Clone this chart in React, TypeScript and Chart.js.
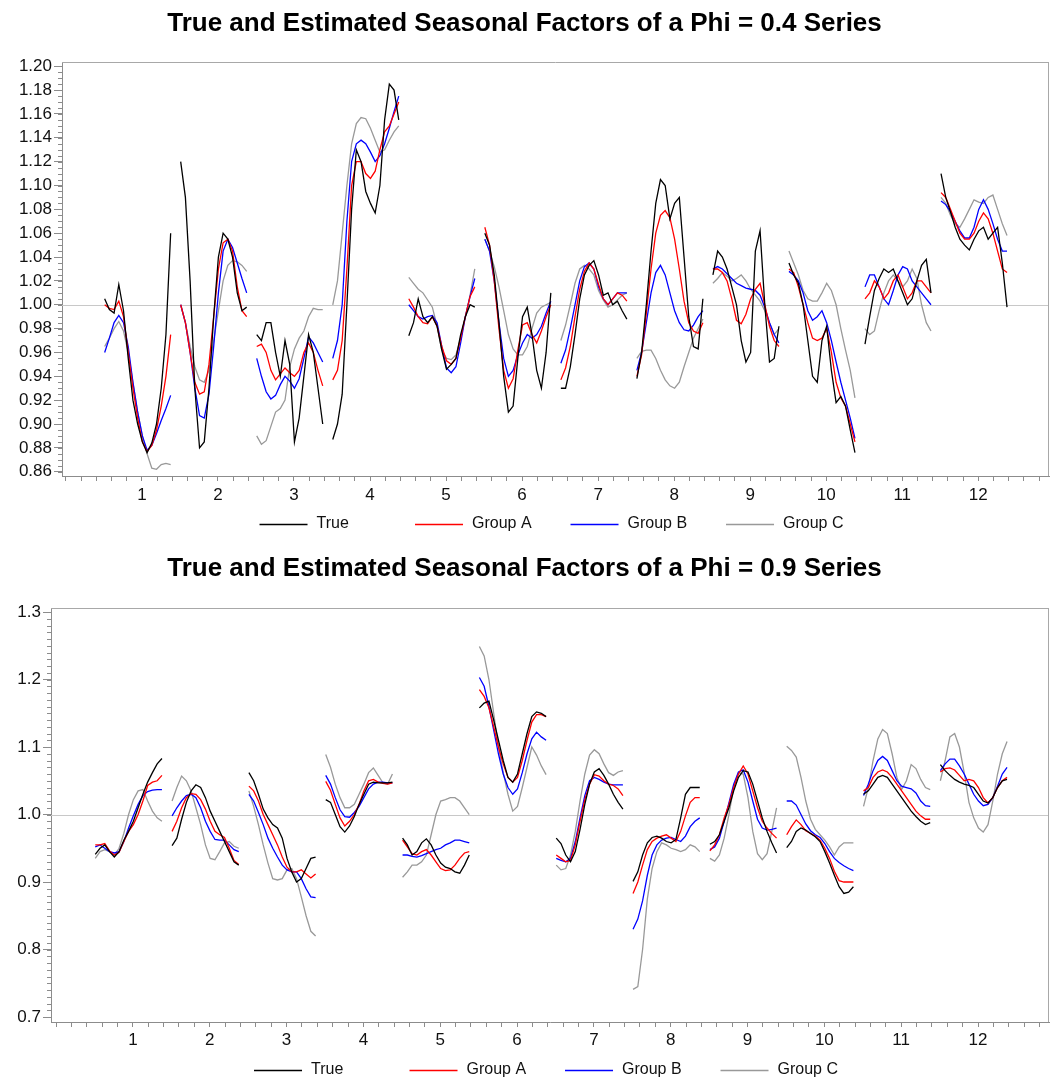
import React, { useEffect, useRef } from 'react';
import { Chart, registerables } from 'chart.js';

Chart.register(...registerables);

const FONT = "'Liberation Sans', Arial, Helvetica, sans-serif";

// ---- categories ----
const MONTHS = [1, 2, 3, 4, 5, 6, 7, 8, 9, 10, 11, 12];
const X_TICK_LABELS = ['1', '2', '3', '4', '5', '6', '7', '8', '9', '10', '11', '12'];
// position of each year inside a month's sub-series
const SUBSERIES_OFFSETS = [-0.49, -0.428, -0.366, -0.304, -0.242, -0.18, -0.118, -0.056, 0.006, 0.068, 0.13, 0.192, 0.254, 0.316, 0.378];

const SERIES_NAMES = ['True', 'Group A', 'Group B', 'Group C'];
const SERIES_COLORS = ['#000000', '#ff0000', '#0000ff', '#999999'];

const PHI4_Y_TICKS = [0.86, 0.88, 0.9, 0.92, 0.94, 0.96, 0.98, 1.0, 1.02, 1.04, 1.06, 1.08, 1.1, 1.12, 1.14, 1.16, 1.18, 1.2];
const PHI9_Y_TICKS = [0.7, 0.8, 0.9, 1.0, 1.1, 1.2, 1.3];

// ---- Phi = 0.4 series (one row per month) ----
const phi4True = [
  [1.005, 0.996, 0.993, 1.017, 0.995, 0.955, 0.92, 0.9, 0.885, 0.876, 0.884, 0.9, 0.93, 0.975, 1.06],
  [1.12, 1.09, 1.02, 0.93, 0.88, 0.885, 0.93, 0.99, 1.04, 1.06, 1.055, 1.04, 1.01, 0.995, 0.998],
  [0.975, 0.97, 0.985, 0.985, 0.96, 0.94, 0.97, 0.95, 0.885, 0.905, 0.94, 0.975, 0.96, 0.93, 0.9],
  [0.887, 0.9, 0.925, 1.0, 1.08, 1.13, 1.12, 1.095, 1.085, 1.077, 1.1, 1.155, 1.185, 1.18, 1.155],
  [0.974, 0.985, 1.005, 0.99, 0.985, 0.99, 0.982, 0.962, 0.946, 0.95, 0.955, 0.975, 0.99, 1.0, 0.998],
  [1.06, 1.05, 1.025, 0.985, 0.94, 0.91, 0.915, 0.955, 0.99, 0.998, 0.975, 0.945, 0.93, 0.96, 1.01],
  [0.93, 0.93, 0.948, 0.975, 1.005, 1.025, 1.033, 1.037, 1.025, 1.008, 1.01, 1.0, 1.003, 0.995, 0.988],
  [0.938, 0.96, 1.0, 1.045, 1.085, 1.105, 1.1, 1.072, 1.085, 1.09, 1.04, 0.99, 0.965, 0.963, 1.005],
  [1.025, 1.045, 1.04, 1.03, 1.015, 1.0, 0.97, 0.952, 0.96, 1.045, 1.062, 1.0, 0.952, 0.955, 0.982],
  [1.035, 1.025, 1.018, 1.0, 0.97, 0.94, 0.935, 0.97, 0.982, 0.945, 0.918, 0.923, 0.915, 0.895, 0.876],
  [0.967, 0.99, 1.012, 1.022, 1.03, 1.027, 1.03, 1.02, 1.01, 1.0, 1.005, 1.02, 1.033, 1.038, 1.01],
  [1.11, 1.09, 1.078, 1.065, 1.055, 1.05, 1.046, 1.055, 1.062, 1.065, 1.055, 1.06, 1.065, 1.035, 0.998],
];
const phi4GroupA = [
  [1.0, 0.997, 0.996, 1.003, 0.99, 0.96, 0.93, 0.905, 0.885, 0.877, 0.882, 0.895, 0.915, 0.94, 0.975],
  [1.0, 0.985, 0.96, 0.935, 0.925, 0.927, 0.95, 0.99, 1.03, 1.052, 1.055, 1.045, 1.015, 0.995, 0.99],
  [0.965, 0.967, 0.96, 0.945, 0.937, 0.942, 0.947, 0.943, 0.94, 0.945, 0.96, 0.968, 0.96, 0.945, 0.932],
  [0.937, 0.945, 0.97, 1.03, 1.1, 1.12, 1.12, 1.11, 1.106, 1.112, 1.13, 1.145, 1.15, 1.16, 1.17],
  [1.005, 0.998, 0.99, 0.985, 0.984, 0.99, 0.982, 0.965, 0.953, 0.95, 0.955, 0.972, 0.99, 1.007, 1.015],
  [1.065, 1.05, 1.02, 0.98, 0.945, 0.93, 0.938, 0.962, 0.983, 0.985, 0.975, 0.968, 0.978, 0.99, 1.0],
  [0.937, 0.947, 0.965, 0.99, 1.013, 1.028, 1.035, 1.03, 1.017, 1.005, 1.0, 1.005, 1.01, 1.008, 1.003],
  [0.94, 0.958, 0.993, 1.03, 1.06, 1.075, 1.079, 1.073, 1.055, 1.03, 1.003, 0.985, 0.978, 0.976, 0.985],
  [1.03, 1.03, 1.027, 1.02, 1.005, 0.987, 0.984, 0.992, 1.005, 1.013, 1.018, 1.0, 0.982, 0.97, 0.965],
  [1.03, 1.027, 1.015, 1.0, 0.985, 0.972, 0.97, 0.972, 0.98, 0.96, 0.935, 0.922, 0.915, 0.9, 0.885],
  [1.005, 1.01, 1.02, 1.015, 1.005, 1.01, 1.02, 1.025, 1.015, 1.005, 1.01, 1.02, 1.02, 1.015, 1.01],
  [1.094, 1.09, 1.08, 1.07, 1.06, 1.055, 1.055, 1.06, 1.07, 1.077, 1.072, 1.06, 1.045, 1.03, 1.027],
];
const phi4GroupB = [
  [0.96, 0.972, 0.985, 0.991, 0.985, 0.965, 0.935, 0.91, 0.89, 0.878, 0.882, 0.892, 0.903, 0.913, 0.924],
  [1.0, 0.985, 0.96, 0.93, 0.907, 0.905, 0.925, 0.965, 1.01, 1.045, 1.055, 1.048, 1.035, 1.022, 1.01],
  [0.955, 0.94, 0.927, 0.921, 0.924, 0.933, 0.94, 0.936, 0.93, 0.938, 0.955, 0.973, 0.968, 0.96, 0.952],
  [0.955, 0.97, 1.0, 1.07, 1.12, 1.135, 1.138, 1.135, 1.128, 1.12, 1.125, 1.135, 1.148, 1.162, 1.175],
  [1.0, 0.995, 0.99, 0.988, 0.99, 0.991, 0.985, 0.965, 0.947, 0.943, 0.948, 0.968, 0.99, 1.007, 1.022],
  [1.055, 1.045, 1.02, 0.985, 0.955, 0.94, 0.945, 0.958, 0.968, 0.975, 0.972, 0.975, 0.982, 0.993, 1.003],
  [0.951, 0.962, 0.98, 1.0, 1.02, 1.032, 1.035, 1.03, 1.015, 1.005, 1.0, 1.005, 1.01, 1.01, 1.01],
  [0.945, 0.96, 0.985, 1.01, 1.027, 1.033, 1.025, 1.01, 0.995, 0.985, 0.979, 0.978, 0.983, 0.99, 0.995],
  [1.03, 1.032, 1.03, 1.026, 1.022, 1.018, 1.016, 1.014, 1.013, 1.012, 1.008, 0.998, 0.985, 0.975, 0.968],
  [1.028, 1.025, 1.02, 1.01, 0.995, 0.987, 0.99, 0.995, 0.985, 0.97, 0.952, 0.935, 0.92, 0.905, 0.888],
  [1.015, 1.025, 1.025, 1.015, 1.005, 1.0, 1.012, 1.025, 1.032, 1.03, 1.02, 1.015, 1.01, 1.005, 1.0],
  [1.087, 1.084, 1.078, 1.07, 1.062, 1.056, 1.056, 1.065, 1.08, 1.088, 1.08, 1.068, 1.055, 1.045, 1.045],
];
const phi4GroupC = [
  [0.965, 0.972, 0.98, 0.986, 0.978, 0.96, 0.935, 0.91, 0.89, 0.875, 0.863, 0.862, 0.866, 0.867, 0.866],
  [1.0, 0.985, 0.965, 0.948, 0.937, 0.935, 0.945, 0.97, 0.995, 1.02, 1.033, 1.037, 1.036, 1.033, 1.028],
  [0.89, 0.883, 0.886, 0.898, 0.91, 0.913, 0.92, 0.948, 0.963, 0.972, 0.978, 0.99, 0.997, 0.996, 0.996],
  [1.0, 1.02, 1.06, 1.1, 1.135, 1.152, 1.157, 1.156, 1.148, 1.138, 1.128, 1.13, 1.138, 1.145, 1.15],
  [1.023, 1.018, 1.013, 1.01, 1.004, 0.998, 0.982, 0.962, 0.955, 0.954, 0.958, 0.972, 0.99, 1.008, 1.03],
  [1.055, 1.045, 1.032, 1.015, 0.995, 0.975, 0.963, 0.958, 0.958, 0.965, 0.98, 0.993, 0.998, 1.0, 1.002],
  [0.97, 0.983, 1.0, 1.018, 1.03, 1.033, 1.03, 1.025, 1.012, 1.004, 0.998, 1.0, 1.004, 1.008, 1.01],
  [0.955, 0.961, 0.962, 0.962, 0.955, 0.945, 0.937, 0.932, 0.93, 0.935, 0.948, 0.96, 0.972, 0.98, 0.988],
  [1.018, 1.022, 1.027, 1.024, 1.02, 1.022, 1.025, 1.02, 1.013, 1.008, 1.003, 0.995, 0.985, 0.975, 0.98],
  [1.045, 1.035, 1.025, 1.012, 1.005, 1.003, 1.003, 1.01, 1.018, 1.012, 1.0, 0.98, 0.962, 0.945, 0.922],
  [0.98, 0.975, 0.978, 0.995, 1.01, 1.02, 1.025, 1.02, 1.015, 1.02, 1.03, 1.022, 1.0, 0.985, 0.978],
  [1.09, 1.085, 1.075, 1.068, 1.065, 1.072, 1.08, 1.088, 1.086, 1.085, 1.09, 1.092, 1.08, 1.068, 1.058],
];

// ---- Phi = 0.9 series (one row per month) ----
const phi9True = [
  [0.941, 0.95, 0.955, 0.945, 0.937, 0.945, 0.962, 0.975, 0.99, 1.01, 1.03, 1.048, 1.062, 1.075, 1.083],
  [0.954, 0.965, 0.993, 1.018, 1.035, 1.044, 1.04, 1.025, 1.005, 0.99, 0.975, 0.96, 0.945, 0.93, 0.925],
  [1.062, 1.05, 1.03, 1.008, 0.995, 0.985, 0.98, 0.965, 0.935, 0.915, 0.9, 0.905, 0.92, 0.935, 0.937],
  [1.022, 1.018, 1.0, 0.982, 0.974, 0.983, 0.997, 1.015, 1.03, 1.045, 1.048, 1.047, 1.047, 1.047, 1.048],
  [0.965, 0.955, 0.94, 0.945, 0.958, 0.964, 0.955, 0.94, 0.928, 0.922, 0.92, 0.915, 0.913, 0.925, 0.94],
  [1.158, 1.165, 1.168, 1.14, 1.11, 1.08, 1.055, 1.048, 1.06, 1.09, 1.12, 1.145, 1.152, 1.15, 1.145],
  [0.965, 0.957, 0.94, 0.93, 0.945, 0.978, 1.015, 1.045, 1.063, 1.068, 1.058, 1.045, 1.03, 1.018, 1.008],
  [0.901, 0.915, 0.94, 0.958, 0.966, 0.968, 0.965, 0.96, 0.958, 0.963, 0.995, 1.03, 1.04, 1.04, 1.04],
  [0.956, 0.96, 0.97, 0.99, 1.01, 1.035, 1.055, 1.065, 1.063, 1.045, 1.02, 0.995, 0.975, 0.958, 0.943],
  [0.951, 0.96, 0.975, 0.98, 0.977, 0.972, 0.967, 0.96, 0.945, 0.928, 0.91, 0.893, 0.883, 0.885, 0.893],
  [1.03, 1.035, 1.045, 1.055, 1.058, 1.055, 1.045, 1.035, 1.025, 1.015, 1.005, 0.997, 0.99, 0.985, 0.988],
  [1.074, 1.065, 1.058, 1.052, 1.048, 1.045, 1.043, 1.04, 1.03, 1.02, 1.017, 1.025, 1.04, 1.05, 1.052],
];
const phi9GroupA = [
  [0.955, 0.955, 0.957, 0.946, 0.94, 0.944, 0.96, 0.975, 0.985, 1.0, 1.02, 1.043, 1.048, 1.05, 1.058],
  [0.975, 0.99, 1.01, 1.025, 1.031, 1.03, 1.022, 1.008, 0.99, 0.975, 0.97, 0.966, 0.95, 0.932, 0.926],
  [1.042, 1.035, 1.02, 1.0, 0.985, 0.97, 0.955, 0.937, 0.922, 0.915, 0.915, 0.918, 0.912, 0.906, 0.912],
  [1.049, 1.036, 1.015, 0.995, 0.983, 0.99, 1.0, 1.015, 1.035, 1.05, 1.052, 1.048, 1.046, 1.045, 1.047],
  [0.962, 0.952, 0.942, 0.94, 0.945, 0.948, 0.94, 0.93, 0.92, 0.917, 0.918, 0.925, 0.935, 0.943, 0.945],
  [1.185, 1.175, 1.158, 1.13, 1.1, 1.075, 1.055, 1.048, 1.055, 1.08, 1.11, 1.137, 1.148, 1.148, 1.145],
  [0.94, 0.935, 0.93, 0.932, 0.955, 0.99, 1.022, 1.045, 1.059, 1.057, 1.05, 1.045, 1.043, 1.038, 1.028],
  [0.883, 0.9, 0.925, 0.948, 0.96, 0.965, 0.968, 0.97, 0.965, 0.96, 0.975, 0.998, 1.018, 1.025, 1.025],
  [0.946, 0.955, 0.97, 0.995, 1.015, 1.04, 1.06, 1.072, 1.06, 1.035, 1.01, 0.99, 0.98, 0.972, 0.965],
  [0.97, 0.982, 0.992, 0.985, 0.976, 0.972, 0.968, 0.962, 0.95, 0.935, 0.916, 0.902, 0.9, 0.9, 0.9],
  [1.035, 1.04, 1.055, 1.063, 1.066, 1.063, 1.055, 1.045, 1.035, 1.025, 1.015, 1.005, 0.998, 0.993, 0.993],
  [1.063, 1.068, 1.069, 1.066, 1.058, 1.05, 1.052, 1.05, 1.04, 1.025, 1.017, 1.025, 1.04, 1.05, 1.055],
];
const phi9GroupB = [
  [0.952, 0.955, 0.95, 0.945, 0.943, 0.945, 0.96, 0.98, 0.998, 1.015, 1.028, 1.034, 1.036, 1.037, 1.037],
  [0.998, 1.01, 1.02, 1.028, 1.03, 1.025, 1.01, 0.99, 0.975, 0.963, 0.962, 0.962, 0.955, 0.948, 0.945],
  [1.03, 1.02, 1.003, 0.985, 0.965, 0.95, 0.937, 0.925, 0.918, 0.915, 0.915, 0.905, 0.89, 0.878, 0.877],
  [1.058, 1.045, 1.025, 1.007, 0.997, 0.996, 1.003, 1.012, 1.025, 1.038, 1.045, 1.048, 1.048, 1.047, 1.047],
  [0.94, 0.94, 0.938, 0.937, 0.939, 0.942, 0.945, 0.948, 0.95, 0.955, 0.958, 0.962, 0.962, 0.96, 0.958],
  [1.203, 1.19, 1.16, 1.125, 1.09, 1.06, 1.04, 1.03, 1.038, 1.062, 1.09, 1.112, 1.122, 1.115, 1.11],
  [0.935, 0.932, 0.93, 0.935, 0.96, 0.995, 1.028, 1.05, 1.055, 1.052, 1.048, 1.045, 1.044, 1.044, 1.044],
  [0.83, 0.845, 0.872, 0.91, 0.94, 0.955, 0.962, 0.965, 0.966, 0.963, 0.96, 0.968, 0.982, 0.99, 0.995],
  [0.948, 0.952, 0.965, 0.99, 1.017, 1.045, 1.063, 1.066, 1.048, 1.02, 0.993, 0.98, 0.977, 0.978, 0.98],
  [1.02, 1.02, 1.014, 1.0, 0.986, 0.976, 0.97, 0.966, 0.957, 0.945, 0.935, 0.929, 0.924, 0.92, 0.917],
  [1.028, 1.045, 1.065, 1.08, 1.086, 1.08, 1.065, 1.05, 1.042, 1.04, 1.038, 1.032, 1.02, 1.013, 1.012],
  [1.065, 1.075, 1.082, 1.082, 1.072, 1.06, 1.045, 1.03, 1.02, 1.013, 1.015, 1.025, 1.042, 1.06, 1.07],
];
const phi9GroupC = [
  [0.935, 0.945, 0.948, 0.945, 0.94, 0.95, 0.972, 1.0, 1.022, 1.035, 1.037, 1.02, 1.005, 0.995, 0.99],
  [1.02, 1.04, 1.057, 1.05, 1.035, 1.01, 0.985, 0.955, 0.935, 0.933, 0.945, 0.958, 0.96, 0.953, 0.95],
  [1.035, 1.012, 0.985, 0.955, 0.928, 0.905, 0.903, 0.905, 0.918, 0.92, 0.905, 0.878, 0.85, 0.827, 0.82],
  [1.089, 1.07, 1.045, 1.025, 1.01, 1.01, 1.015, 1.03, 1.045, 1.062, 1.069, 1.058, 1.047, 1.045, 1.06],
  [0.907, 0.915, 0.925, 0.925, 0.93, 0.94, 0.97, 1.0, 1.02, 1.022, 1.025, 1.025, 1.02, 1.01, 1.0],
  [1.249, 1.235, 1.2, 1.15, 1.1, 1.062, 1.03, 1.005, 1.012, 1.04, 1.07, 1.1, 1.088, 1.072, 1.059],
  [0.925, 0.918, 0.92, 0.94, 0.975, 1.02, 1.06, 1.088, 1.096, 1.09, 1.075, 1.062, 1.058, 1.063, 1.065],
  [0.741, 0.745, 0.8, 0.875, 0.92, 0.945, 0.958, 0.955, 0.95, 0.948, 0.945, 0.948, 0.955, 0.952, 0.945],
  [0.935, 0.931, 0.94, 0.965, 1.0, 1.04, 1.062, 1.06, 1.025, 0.975, 0.942, 0.933, 0.942, 0.975, 1.01],
  [1.101, 1.095, 1.085, 1.055, 1.02, 0.993, 0.978, 0.97, 0.962, 0.952, 0.94, 0.952, 0.958, 0.958, 0.958],
  [1.012, 1.04, 1.08, 1.112, 1.126, 1.12, 1.09, 1.055, 1.037, 1.05, 1.074, 1.068, 1.052, 1.04, 1.037],
  [1.05, 1.08, 1.115, 1.12, 1.1, 1.062, 1.018, 0.995, 0.98, 0.974, 0.985, 1.02, 1.06, 1.09, 1.108],
];

const AXIS_COLOR = '#8c8c8c';
const FRAME_COLOR = '#a8a8a8';
const REF_COLOR = '#c8c8c8';

type Panel = {
  title: string;
  series: number[][][];
  yMin: number;
  yMax: number;
  yTicks: number[];
  yDecimals: number;
  yMinorStep: number;
  xMin: number;
  xMax: number;
  yAxisWidth: number;
  titlePadTop: number;
  titlePadBottom: number;
  xAxisHeight: number;
  xLabelPad: number;
  bottomPad: number;
  legendOffset: number;
};

const PANELS: Panel[] = [
  {
    title: 'True and Estimated Seasonal Factors of a Phi = 0.4 Series',
    series: [phi4True, phi4GroupA, phi4GroupB, phi4GroupC],
    yMin: 0.8564, yMax: 1.2034, yTicks: PHI4_Y_TICKS, yDecimals: 2, yMinorStep: 0.005,
    xMin: -0.051, xMax: 12.93, yAxisWidth: 62,
    titlePadTop: 8.4, titlePadBottom: 22.6, xAxisHeight: 30, xLabelPad: 4, bottomPad: 34, legendOffset: 48,
  },
  {
    title: 'True and Estimated Seasonal Factors of a Phi = 0.9 Series',
    series: [phi9True, phi9GroupA, phi9GroupB, phi9GroupC],
    yMin: 0.6926, yMax: 1.3055, yTicks: PHI9_Y_TICKS, yDecimals: 1, yMinorStep: 0.01,
    xMin: -0.066, xMax: 12.924, yAxisWidth: 51,
    titlePadTop: 13.4, titlePadBottom: 23.7, xAxisHeight: 30, xLabelPad: 3, bottomPad: 28, legendOffset: 48,
  },
];

function buildPoints(values: number[][]) {
  const pts: { x: number; y: number | null }[] = [];
  values.forEach((row, mi) => {
    row.forEach((v, j) => pts.push({ x: MONTHS[mi] + SUBSERIES_OFFSETS[j], y: v }));
    pts.push({ x: MONTHS[mi] + 0.45, y: null });
  });
  return pts;
}

const X_TICK_VALUES: number[] = [];
for (let k = 0; k <= 64; k++) X_TICK_VALUES.push(k / 5);

const decorPlugin = {
  id: 'decor',
  beforeDatasetsDraw(chart: any, _args: any, opts: any) {
    const { ctx, chartArea: a } = chart;
    const y = chart.scales.y;
    const py = Math.round(y.getPixelForValue(opts.refValue)) + 0.5;
    ctx.save();
    ctx.strokeStyle = REF_COLOR;
    ctx.lineWidth = 1;
    ctx.beginPath();
    ctx.moveTo(a.left, py);
    ctx.lineTo(a.right, py);
    ctx.stroke();
    ctx.restore();
  },
  afterDraw(chart: any, _args: any, opts: any) {
    const { ctx, chartArea: a } = chart;
    const y = chart.scales.y;
    ctx.save();
    // frame top / right
    ctx.strokeStyle = FRAME_COLOR;
    ctx.lineWidth = 1;
    ctx.beginPath();
    ctx.moveTo(a.left, Math.round(a.top) + 0.5);
    ctx.lineTo(a.right, Math.round(a.top) + 0.5);
    ctx.moveTo(Math.round(a.right) - 0.5, a.top);
    ctx.lineTo(Math.round(a.right) - 0.5, a.bottom);
    ctx.stroke();
    // minor y ticks
    ctx.strokeStyle = AXIS_COLOR;
    const step = opts.minorStep;
    const n0 = Math.ceil(y.min / step - 1e-9);
    const n1 = Math.floor(y.max / step + 1e-9);
    ctx.beginPath();
    for (let k = n0; k <= n1; k++) {
      const py = Math.round(y.getPixelForValue(k * step)) + 0.5;
      ctx.moveTo(a.left - 4, py);
      ctx.lineTo(a.left, py);
    }
    ctx.stroke();
    // legend
    const ds = chart.data.datasets;
    ctx.font = `16px ${FONT}`;
    const lineLen = 48;
    const gap = 9;
    const slot = 155.5;
    const lastW = lineLen + gap + ctx.measureText(ds[ds.length - 1].label).width;
    const total = slot * (ds.length - 1) + lastW;
    const x0 = (a.left + a.right) / 2 - total / 2 - 4;
    const cy = a.bottom + opts.legendOffset;
    ctx.textBaseline = 'middle';
    ctx.textAlign = 'left';
    ds.forEach((d: any, i: number) => {
      const x = x0 + i * slot;
      ctx.strokeStyle = d.borderColor;
      ctx.lineWidth = 1.6;
      ctx.beginPath();
      ctx.moveTo(x, cy + 0.5);
      ctx.lineTo(x + lineLen, cy + 0.5);
      ctx.stroke();
      ctx.fillStyle = '#111';
      ctx.fillText(d.label, x + lineLen + gap, cy);
    });
    ctx.restore();
  },
};

function PanelChart({ panel }: { panel: Panel }) {
  const ref = useRef<HTMLCanvasElement | null>(null);
  useEffect(() => {
    if (!ref.current) return;
    const datasets = panel.series.map((vals, i) => ({
      label: SERIES_NAMES[i],
      data: buildPoints(vals),
      borderColor: SERIES_COLORS[i],
      backgroundColor: SERIES_COLORS[i],
      borderWidth: 1.3,
      pointRadius: 0,
      tension: 0,
      spanGaps: false,
      fill: false,
    }));
    const chart = new Chart(ref.current, {
      type: 'line',
      data: { datasets },
      plugins: [decorPlugin],
      options: {
        animation: false,
        responsive: false,
        maintainAspectRatio: false,
        parsing: true,
        layout: { padding: { top: 0, left: 0, right: 1, bottom: panel.bottomPad } },
        plugins: {
          legend: { display: false },
          tooltip: { enabled: false },
          title: {
            display: true,
            text: panel.title,
            color: '#000',
            font: { family: FONT, size: 26, weight: 'bold' },
            padding: { top: panel.titlePadTop, bottom: panel.titlePadBottom },
          },
          decor: { refValue: 1.0, minorStep: panel.yMinorStep, legendOffset: panel.legendOffset },
        } as any,
        scales: {
          x: {
            type: 'linear',
            min: panel.xMin,
            max: panel.xMax,
            afterBuildTicks: (s: any) => {
              s.ticks = X_TICK_VALUES.map((v) => ({ value: v }));
            },
            afterFit: (s: any) => {
              s.height = panel.xAxisHeight;
            },
            ticks: {
              autoSkip: false,
              maxRotation: 0,
              minRotation: 0,
              padding: panel.xLabelPad,
              color: '#111',
              font: { family: FONT, size: 17 },
              callback: (v: any) => {
                const n = Number(v);
                const r = Math.round(n);
                return Math.abs(n - r) < 1e-6 && r >= 1 && r <= 12 ? X_TICK_LABELS[r - 1] : '';
              },
            },
            grid: { drawOnChartArea: false, drawTicks: true, tickLength: 5, color: AXIS_COLOR, tickColor: AXIS_COLOR },
            border: { display: true, color: AXIS_COLOR, width: 1 },
          },
          y: {
            type: 'linear',
            min: panel.yMin,
            max: panel.yMax,
            afterBuildTicks: (s: any) => {
              s.ticks = panel.yTicks.map((v) => ({ value: v }));
            },
            afterFit: (s: any) => {
              s.width = panel.yAxisWidth;
            },
            ticks: {
              padding: 2,
              color: '#111',
              font: { family: FONT, size: 17 },
              callback: (v: any) => Number(v).toFixed(panel.yDecimals),
            },
            grid: { drawOnChartArea: false, drawTicks: true, tickLength: 8, color: AXIS_COLOR, tickColor: AXIS_COLOR },
            border: { display: true, color: AXIS_COLOR, width: 1 },
          },
        },
      } as any,
    });
    return () => chart.destroy();
  }, [panel]);
  return <canvas ref={ref} width={1050} height={540} style={{ display: 'block', width: 1050, height: 540 }} />;
}

export default function App() {
  return (
    <div style={{ position: 'absolute', left: 0, top: 0, width: 1050, height: 1080, background: '#fff', overflow: 'hidden' }}>
      {PANELS.map((p, i) => (
        <PanelChart key={i} panel={p} />
      ))}
    </div>
  );
}
